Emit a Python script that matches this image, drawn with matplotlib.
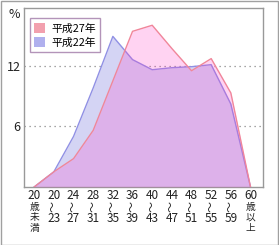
import matplotlib
matplotlib.use("Agg")
import matplotlib.pyplot as plt
from matplotlib.patches import Patch, Rectangle

plt.rcParams['font.family'] = ['Noto Sans CJK JP', 'DejaVu Sans']

# age groups (x axis): each label split into its lines
age_labels = [["20", "歳", "未", "満"], ["20", "〜", "23"], ["24", "〜", "27"],
              ["28", "〜", "31"], ["32", "〜", "35"], ["36", "〜", "39"],
              ["40", "〜", "43"], ["44", "〜", "47"], ["48", "〜", "51"],
              ["52", "〜", "55"], ["56", "〜", "59"], ["60", "歳", "以", "上"]]

# share of each age group, %
h27 = [0, 1.5, 2.8, 5.6, 10.5, 15.4, 16.0, 13.7, 11.5, 12.7, 9.3, 0]
h22 = [0, 1.5, 5.0, 9.8, 14.9, 12.6, 11.6, 11.8, 11.9, 12.1, 8.2, 0]
names = ["平成27年", "平成22年"]

x = list(range(len(age_labels)))

fig = plt.figure(figsize=(2.79, 2.45), dpi=100)
ax = fig.add_axes([0.086, 0.237, 0.857, 0.730])

for yv in [6, 12]:
    ax.axhline(yv, color='#888888', lw=0.9, ls=(0, (1, 3)), zorder=1)

ax.fill_between(x, h22, color='#d4d4f4', lw=0, zorder=2)
ax.plot(x, h22, color='#9090e4', lw=1.0, zorder=3)
ax.fill_between(x, h27, color='#ff37c8', alpha=0.22, lw=0, zorder=4)
ax.plot(x, h27, color='#f0869a', lw=1.0, zorder=5)

ax.set_xlim(-0.52, 11.64)
ax.set_ylim(0, 17.7)
ax.set_yticks([6, 12])
ax.set_yticklabels(["6", "12"], fontsize=9)
ax.set_xticks(x)
ax.set_xticklabels([])
ax.tick_params(axis='both', length=0, colors='#222222')
ax.tick_params(axis='y', pad=2.5)
for s in ax.spines.values():
    s.set_color('#999999')
    s.set_linewidth(1.0)

# x labels line by line (pixel offsets below the axis, 1px = 0.72pt)
px = 0.72
for i, lines in enumerate(age_labels):
    for k, t in enumerate(lines):
        if len(lines) == 3:
            off = [9, 20, 32][k]
            fs = 8.5 if k != 1 else 8
        else:
            off = [9, 20, 30.5, 41][k]
            fs = 8.5 if k == 0 else 7.0
        rot = 90 if t == "〜" else 0
        ax.annotate(t, xy=(i, 0), xycoords=ax.get_xaxis_transform(),
                    xytext=(0, -off * px), textcoords='offset points',
                    ha='center', va='center', fontsize=fs, rotation=rot,
                    color='#222222', annotation_clip=False)

fig.text(14 / 279, 1 - 14 / 245, "%", fontsize=9, ha='center', va='center', color='#222222')

handles = [Patch(facecolor='#f2a0ae', edgecolor='none'),
           Patch(facecolor='#b0b0ee', edgecolor='none')]
leg = fig.legend(handles, names, loc='upper left',
                 bbox_to_anchor=(29.5 / 279, 1 - 18.5 / 245), borderaxespad=0,
                 fontsize=7.8, frameon=True, fancybox=False, edgecolor='#a07aa8',
                 handlelength=1.0, handleheight=1.1, handletextpad=0.6,
                 labelspacing=0.3, borderpad=0.4)
leg.get_frame().set_linewidth(1.0)

fig.add_artist(Rectangle((0.002, 0.002), 0.994, 0.994, transform=fig.transFigure,
                         fill=False, ec='#a0a0a0', lw=1.0))

fig.savefig("out.png", dpi=100)
